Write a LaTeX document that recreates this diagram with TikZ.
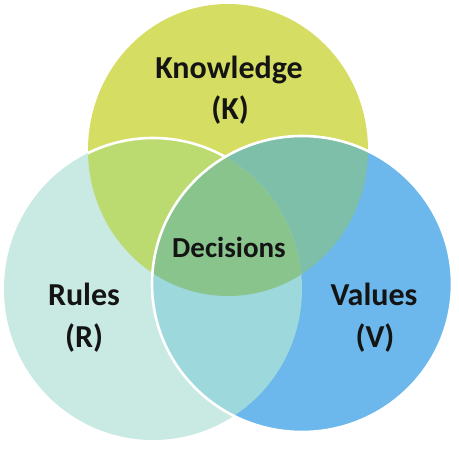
\documentclass[tikz,border=0pt]{standalone}
\usepackage{fontspec}
\setmainfont{Carlito}
\begin{document}
\begin{tikzpicture}[x=1pt,y=-1pt,
  lbl/.style={font=\bfseries\fontsize{32}{38}\selectfont, anchor=base, inner sep=0pt, text=black!92},
  dlbl/.style={font=\bfseries\fontsize{29}{34}\selectfont, anchor=base, inner sep=0pt, text=black!92},
  rim/.style={draw=white, line width=2.6pt}]
\definecolor{Kc}{HTML}{D5DE63}
\definecolor{Rc}{HTML}{C9E9E3}
\definecolor{Vc}{HTML}{6CB8EC}
\definecolor{KRc}{HTML}{BBDB70}
\definecolor{KVc}{HTML}{7DBFA8}
\definecolor{RVc}{HTML}{9DD8DC}
\definecolor{KRVc}{HTML}{89C48D}
\def\Kpath{(228,150) ellipse [x radius=140pt, y radius=146pt]}
\def\Rpath{(153,289) ellipse [x radius=149pt, y radius=151pt]}
\def\Vpath{(302,284) ellipse [x radius=150pt, y radius=148pt]}
\useasboundingbox (0,0) rectangle (459,453);
\fill[white] (0,0) rectangle (459,453);
% single circles
\fill[Kc] \Kpath;
\fill[Rc] \Rpath;
\fill[Vc] \Vpath;
% K and R
\begin{scope}
  \clip \Kpath;
  \fill[KRc] \Rpath;
\end{scope}
% white rim of R inside K
\begin{scope}
  \clip \Kpath;
  \draw[rim] \Rpath;
\end{scope}
% K and V
\begin{scope}
  \clip \Kpath;
  \fill[KVc] \Vpath;
\end{scope}
% R and V
\begin{scope}
  \clip \Rpath;
  \fill[RVc] \Vpath;
\end{scope}
% K, R and V
\begin{scope}
  \clip \Kpath;
  \clip \Rpath;
  \fill[KRVc] \Vpath;
\end{scope}
% white rim of V
\draw[rim] \Vpath;
% labels
\node[lbl] (know) at (229,78) {Knowledge};
\node[lbl] (kk) at (230,119) {(K)};
\node[lbl] (rules) at (84,305) {Rules};
\node[lbl] (rr) at (84,347) {(R)};
\node[lbl] (vals) at (374,305) {Values};
\node[lbl] (vv) at (375,347) {(V)};
\node[dlbl] (dec) at (229,257) {Decisions};
\end{tikzpicture}
\end{document}
